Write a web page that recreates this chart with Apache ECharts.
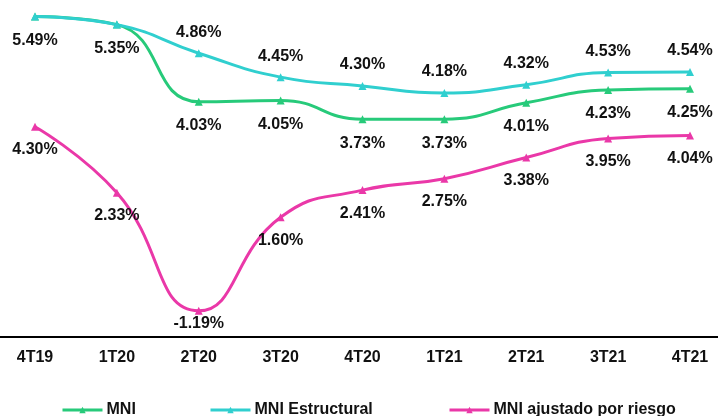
<!DOCTYPE html>
<html>
<head>
<meta charset="utf-8">
<script src="https://cdn.jsdelivr.net/npm/echarts@6/dist/echarts.min.js"></script>
<style>
html,body{margin:0;padding:0;background:#fff;}
#c{width:718px;height:416px;}
</style>
</head>
<body>
<div id="c"></div>
<script>
const categories = ['4T19','1T20','2T20','3T20','4T20','1T21','2T21','3T21','4T21'];
const mni = [5.49, 5.35, 4.03, 4.05, 3.73, 3.73, 4.01, 4.23, 4.25];
const mniEstructural = [5.49, 5.35, 4.86, 4.45, 4.30, 4.18, 4.32, 4.53, 4.54];
const mniAjustado = [4.30, 2.33, -1.19, 1.60, 2.41, 2.75, 3.38, 3.95, 4.04];
const names = ['MNI', 'MNI Estructural', 'MNI ajustado por riesgo'];
const colors = ['#27ca7a', '#30cfcf', '#ea38a8'];

const FONT = '"Liberation Sans", Arial, sans-serif';
const labelBase = {
  show: true,
  fontFamily: FONT,
  fontWeight: 'bold',
  fontSize: 16,
  color: '#111',
  formatter: p => p.value.toFixed(2) + '%'
};

function mkSeries(i, values, yAxisIndex, pos, dist, dataFn) {
  return {
    name: names[i],
    type: 'line',
    xAxisIndex: 0,
    yAxisIndex: yAxisIndex,
    smooth: 0.5,
    symbol: 'triangle',
    symbolSize: 8,
    lineStyle: { width: 3, color: colors[i] },
    itemStyle: { color: colors[i] },
    label: Object.assign({}, labelBase, { position: pos, distance: dist }),
    data: values.map((v, k) => dataFn ? dataFn(v, k) : v),
    animation: false
  };
}

const chart = echarts.init(document.getElementById('c'));
const legendBase = {
  bottom: -2,
  itemWidth: 40,
  itemHeight: 8,
  itemGap: 0,
  lineStyle: { width: 3 },
  textStyle: { fontFamily: FONT, fontWeight: 'bold', fontSize: 16, color: '#111', padding: [0, 0, 0, -1] },
  padding: [0, 0, 0, 0]
};
chart.setOption({
  backgroundColor: '#fff',
  animation: false,
  grid: [
    { left: 35, right: 28, top: 10, bottom: 79 },
    { left: 0, right: 0, top: 10, bottom: 79 }
  ],
  legend: [
    Object.assign({}, legendBase, { left: 61, data: [names[0]] }),
    Object.assign({}, legendBase, { left: 209, data: [names[1]] }),
    Object.assign({}, legendBase, { left: 448, data: [names[2]] })
  ],
  xAxis: [
    {
      type: 'category',
      gridIndex: 0,
      data: categories,
      boundaryGap: false,
      axisLine: { show: false },
      axisTick: { show: false },
      axisLabel: { fontFamily: FONT, fontWeight: 'bold', fontSize: 16, color: '#111', margin: 13 }
    },
    {
      type: 'category',
      gridIndex: 1,
      data: categories,
      axisLine: { lineStyle: { color: '#000', width: 2 } },
      axisTick: { show: false },
      axisLabel: { show: false }
    }
  ],
  yAxis: [
    { type: 'value', gridIndex: 0, min: 0, max: 5.6, show: false, splitLine: { show: false } },
    { type: 'value', gridIndex: 0, min: -1.97, max: 7.78, show: false, splitLine: { show: false } },
    { type: 'value', gridIndex: 1, min: 0, max: 1, show: false, splitLine: { show: false } }
  ],
  series: [
    mkSeries(0, mni, 0, 'bottom', 12),
    mkSeries(1, mniEstructural, 0, 'top', 9, (v, k) => k < 2 ? { value: v, label: { show: false } } : v),
    mkSeries(2, mniAjustado, 1, 'bottom', 11, (v, k) => v < 0 ? { value: v, label: { distance: 1 } } : v)
  ]
});
</script>
</body>
</html>
